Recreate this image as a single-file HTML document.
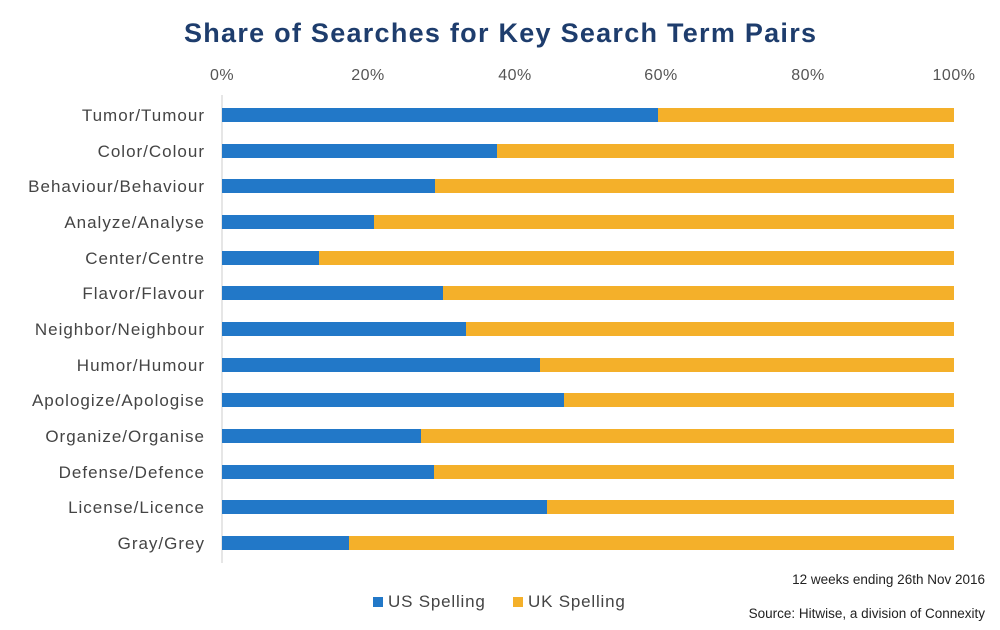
<!DOCTYPE html>
<html><head><meta charset="utf-8"><style>
body{margin:0;background:#fff}
svg{display:block;font-family:"Liberation Sans",sans-serif}
</style></head><body>
<svg width="1000" height="630" viewBox="0 0 1000 630">
<text x="500" y="42" text-anchor="middle" font-size="27" font-weight="bold" fill="#1e3d6d" textLength="632" lengthAdjust="spacing">Share of Searches for Key Search Term Pairs</text>
<g font-size="16" fill="#555" text-anchor="middle" letter-spacing="0.5">
<text x="222" y="80">0%</text><text x="368" y="80">20%</text><text x="515" y="80">40%</text><text x="661" y="80">60%</text><text x="808" y="80">80%</text><text x="954" y="80">100%</text>
</g>
<line x1="222" y1="95" x2="222" y2="563" stroke="#ccc" stroke-width="1"/>
<g fill="#f4b02a">
<rect x="222" y="108" width="732" height="14"/>
<rect x="222" y="144" width="732" height="14"/>
<rect x="222" y="179" width="732" height="14"/>
<rect x="222" y="215" width="732" height="14"/>
<rect x="222" y="251" width="732" height="14"/>
<rect x="222" y="286" width="732" height="14"/>
<rect x="222" y="322" width="732" height="14"/>
<rect x="222" y="358" width="732" height="14"/>
<rect x="222" y="393" width="732" height="14"/>
<rect x="222" y="429" width="732" height="14"/>
<rect x="222" y="465" width="732" height="14"/>
<rect x="222" y="500" width="732" height="14"/>
<rect x="222" y="536" width="732" height="14"/>
</g>
<g fill="#2278c8">
<rect x="222" y="108" width="436" height="14"/>
<rect x="222" y="144" width="275" height="14"/>
<rect x="222" y="179" width="213" height="14"/>
<rect x="222" y="215" width="152" height="14"/>
<rect x="222" y="251" width="97" height="14"/>
<rect x="222" y="286" width="221" height="14"/>
<rect x="222" y="322" width="244" height="14"/>
<rect x="222" y="358" width="318" height="14"/>
<rect x="222" y="393" width="342" height="14"/>
<rect x="222" y="429" width="199" height="14"/>
<rect x="222" y="465" width="212" height="14"/>
<rect x="222" y="500" width="325" height="14"/>
<rect x="222" y="536" width="127" height="14"/>
</g>
<g font-size="17" fill="#444" text-anchor="end" letter-spacing="1">
<text x="205" y="121">Tumor/Tumour</text>
<text x="205" y="157">Color/Colour</text>
<text x="205" y="192">Behaviour/Behaviour</text>
<text x="205" y="228">Analyze/Analyse</text>
<text x="205" y="264">Center/Centre</text>
<text x="205" y="299">Flavor/Flavour</text>
<text x="205" y="335">Neighbor/Neighbour</text>
<text x="205" y="371">Humor/Humour</text>
<text x="205" y="406">Apologize/Apologise</text>
<text x="205" y="442">Organize/Organise</text>
<text x="205" y="478">Defense/Defence</text>
<text x="205" y="513">License/Licence</text>
<text x="205" y="549">Gray/Grey</text>
</g>
<rect x="373" y="597" width="10" height="10" fill="#2278c8"/>
<text x="388" y="607" font-size="17" fill="#444" letter-spacing="0.8">US Spelling</text>
<rect x="513" y="597" width="10" height="10" fill="#f4b02a"/>
<text x="528" y="607" font-size="17" fill="#444" letter-spacing="0.8">UK Spelling</text>
<text x="985" y="584" font-size="13.5" fill="#222" text-anchor="end">12 weeks ending 26th Nov 2016</text>
<text x="985" y="618" font-size="13.5" fill="#222" text-anchor="end">Source: Hitwise, a division of Connexity</text>
</svg>
</body></html>
